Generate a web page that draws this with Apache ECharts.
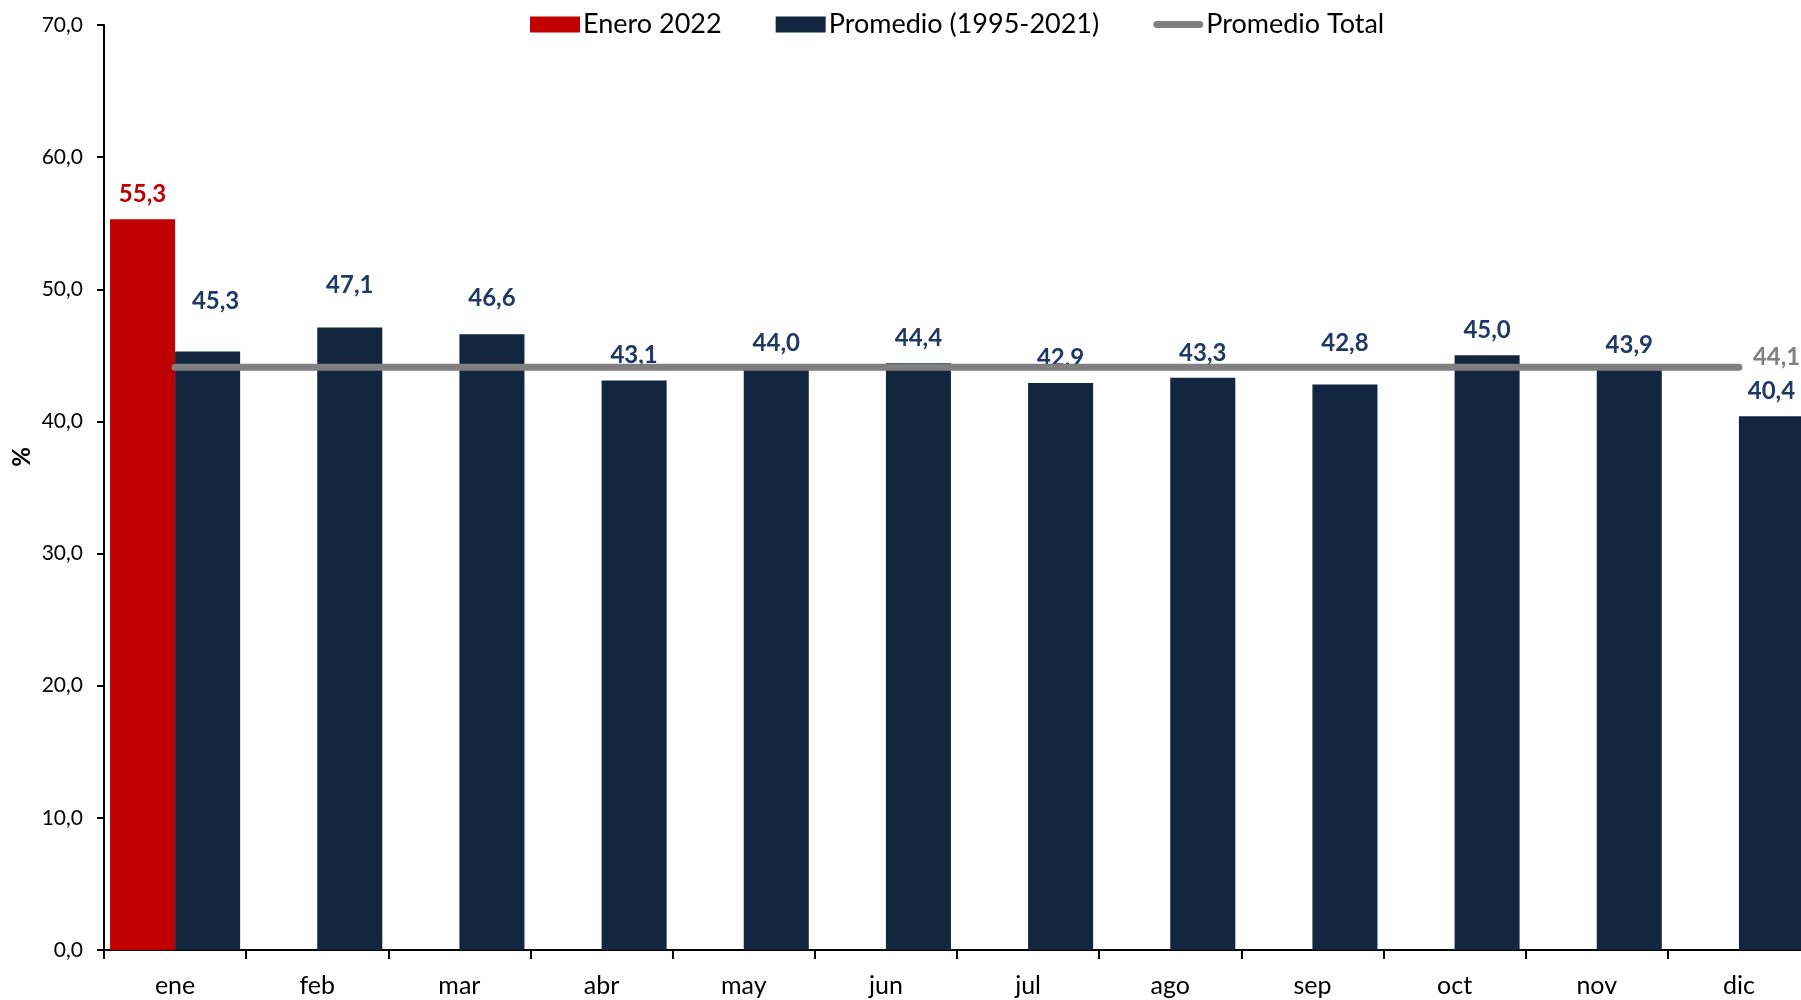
<!DOCTYPE html>
<html>
<head>
<meta charset="utf-8">
<script src="https://cdn.jsdelivr.net/npm/echarts@6/dist/echarts.min.js"></script>
<style>
  html, body { margin: 0; padding: 0; background: #fff; overflow: hidden; }
  /* the plot runs a little past the right edge of the page */
  #chart { width: 1810px; height: 1000px; }
</style>
</head>
<body>
<div id="chart"></div>
<script>
// Monthly categories
const months = ['ene', 'feb', 'mar', 'abr', 'may', 'jun', 'jul', 'ago', 'sep', 'oct', 'nov', 'dic'];
// January 2022 value (only January is reported)
const enero2022 = [55.3, null, null, null, null, null, null, null, null, null, null, null];
// Monthly average 1995-2021
const promedio = [45.3, 47.1, 46.6, 43.1, 44.0, 44.4, 42.9, 43.3, 42.8, 45.0, 43.9, 40.4];
// Overall average
const promedioTotal = 44.1;
const yTicks = [0, 10, 20, 30, 40, 50, 60, 70];

// Extra lift (px) for a few value labels that sit higher above their bars
const labelLift = { 0: 25, 1: 17, 2: 11, 8: 16 };
const labelShiftX = { 0: 8 };

const FONT = 'Lato';
const fmt = v => Number(v).toFixed(1).replace('.', ',');

const chart = echarts.init(document.getElementById('chart'), null, { renderer: 'canvas' });

const option = {
  animation: false,
  textStyle: { fontFamily: FONT },
  grid: { left: 104, top: 25, right: 0, bottom: 50, containLabel: false },
  legend: {
    left: 525, top: 6,
    itemWidth: 50, itemHeight: 16, itemGap: 54,
    textStyle: { fontFamily: FONT, fontSize: 27, color: '#000', padding: [0, 0, 0, -2] },
    data: [
      { name: 'Enero 2022', icon: 'rect' },
      { name: 'Promedio (1995-2021)', icon: 'rect' },
      { name: 'Promedio Total', icon: 'path://M4,0 H52 A4,4 0 0 1 52,8 H4 A4,4 0 0 1 4,0 Z' }
    ]
  },
  xAxis: {
    type: 'category',
    data: months,
    axisLine: { lineStyle: { color: '#000', width: 2 } },
    axisTick: { show: true, length: 9, lineStyle: { color: '#000', width: 2 } },
    axisLabel: { fontFamily: FONT, fontSize: 25, color: '#000', margin: 23 }
  },
  yAxis: {
    type: 'value',
    min: yTicks[0], max: yTicks[yTicks.length - 1], interval: 10,
    splitLine: { show: false },
    axisLine: { show: true, lineStyle: { color: '#000', width: 2 } },
    axisTick: { show: true, length: 7, lineStyle: { color: '#000', width: 2 } },
    axisLabel: { fontFamily: FONT, fontSize: 21, color: '#000', margin: 21, formatter: fmt }
  },
  graphic: [{
    type: 'text',
    left: 10, top: 447,
    rotation: Math.PI / 2,
    style: { text: '%', fontFamily: FONT, fontSize: 24, fontWeight: 'bold', fill: '#000' }
  }],
  series: [
    {
      name: 'Enero 2022',
      type: 'bar',
      data: enero2022,
      barGap: '0%',
      barCategoryGap: '8.5%',
      itemStyle: { color: '#C00000' },
      label: {
        show: true, position: 'top', distance: 13,
        fontFamily: FONT, fontSize: 24, fontWeight: 'bold', color: '#C00000',
        formatter: p => p.value == null ? '' : fmt(p.value)
      }
    },
    {
      name: 'Promedio (1995-2021)',
      type: 'bar',
      data: promedio.map((v, i) => ({
        value: v,
        label: { distance: 13 + (labelLift[i] || 0), offset: [labelShiftX[i] || 0, 0] }
      })),
      barGap: '0%',
      barCategoryGap: '8.5%',
      itemStyle: { color: '#13263F' },
      label: {
        show: true, position: 'top', distance: 13,
        fontFamily: FONT, fontSize: 24, fontWeight: 'bold', color: '#1F3864',
        formatter: p => fmt(p.value)
      }
    },
    {
      name: 'Promedio Total',
      type: 'line',
      data: months.map(() => promedioTotal),
      symbol: 'none',
      z: 5,
      lineStyle: { color: '#808080', width: 7, cap: 'round' },
      itemStyle: { color: '#808080' },
      endLabel: {
        show: true, distance: 14, offset: [0, -10],
        fontFamily: FONT, fontSize: 24, fontWeight: 'bold', color: '#808080',
        formatter: p => fmt(p.value)
      }
    }
  ]
};

chart.setOption(option);
</script>
</body>
</html>
